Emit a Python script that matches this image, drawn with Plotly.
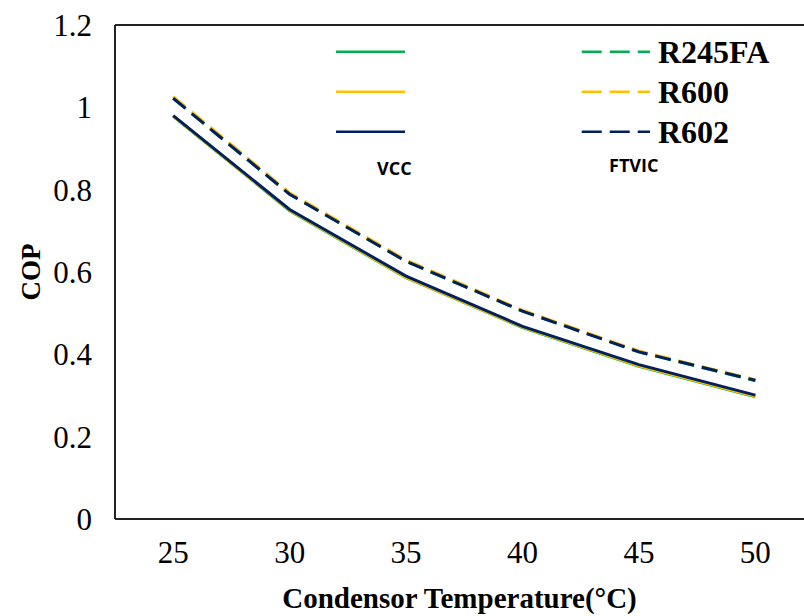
import plotly.graph_objects as go

temps = ["25", "30", "35", "40", "45", "50"]
refrigerants = ["R245FA", "R600", "R602"]
colors = ["#00b050", "#ffc000", "#002060"]

vcc_r245fa = [0.978, 0.749, 0.586, 0.465, 0.371, 0.297]
vcc_r600 = [0.979, 0.750, 0.587, 0.466, 0.372, 0.298]
vcc_r602 = [0.980, 0.752, 0.590, 0.468, 0.375, 0.301]

ftvic_r245fa = [1.022, 0.789, 0.626, 0.505, 0.406, 0.336]
ftvic_r600 = [1.026, 0.792, 0.629, 0.507, 0.408, 0.338]
ftvic_r602 = [1.022, 0.789, 0.626, 0.505, 0.406, 0.337]

y_ticks = [0, 0.2, 0.4, 0.6, 0.8, 1.0, 1.2]
y_tick_text = ["0", "0.2", "0.4", "0.6", "0.8", "1", "1.2"]

vcc = [vcc_r245fa, vcc_r600, vcc_r602]
ftvic = [ftvic_r245fa, ftvic_r600, ftvic_r602]

fig = go.Figure()
for name, col, ys in zip(refrigerants, colors, vcc):
    fig.add_trace(go.Scatter(x=temps, y=ys, mode="lines", name="VCC " + name,
                             line=dict(color=col, width=3), showlegend=False))
for name, col, ys in zip(refrigerants, colors, ftvic):
    fig.add_trace(go.Scatter(x=temps, y=ys, mode="lines", name="FTVIC " + name,
                             line=dict(color=col, width=3, dash="16px,8px"), showlegend=False))

serif = "Times New Roman, Liberation Serif, Times, DejaVu Serif, serif"
frame = dict(color="#222", width=2)
shapes = [
    dict(type="line", xref="paper", yref="paper", x0=0, x1=0, y0=0, y1=1, line=frame),
    dict(type="line", xref="paper", yref="paper", x0=0, x1=1.05, y0=0, y1=0, line=frame),
    dict(type="line", xref="paper", yref="paper", x0=0, x1=1.05, y0=1, y1=1, line=frame),
]
annotations = []
row_y = [0.946, 0.865, 0.784]
for name, col, ry in zip(refrigerants, colors, row_y):
    shapes.append(dict(type="line", xref="paper", yref="paper", x0=0.3208, x1=0.4209,
                       y0=ry, y1=ry, line=dict(color=col, width=2.5)))
    shapes.append(dict(type="line", xref="paper", yref="paper", x0=0.6774, x1=0.7765,
                       y0=ry, y1=ry, line=dict(color=col, width=2.5, dash="20px,8px")))
    annotations.append(dict(text="<b>" + name + "</b>", xref="paper", yref="paper",
                            x=0.785, y=ry, xanchor="left", yanchor="middle", showarrow=False,
                            font=dict(family=serif, size=32, color="black")))
annotations.append(dict(text="<b>VCC</b>", xref="paper", yref="paper", x=0.4057, y=0.7105,
                        xanchor="center", yanchor="middle", showarrow=False,
                        font=dict(family="Open Sans", size=18, color="black")))
annotations.append(dict(text="<b>FTVIC</b>", xref="paper", yref="paper", x=0.752, y=0.7166,
                        xanchor="center", yanchor="middle", showarrow=False,
                        font=dict(family="Open Sans", size=18, color="black")))

fig.update_layout(
    width=804, height=616,
    margin=dict(l=115, r=0, t=25, b=97),
    paper_bgcolor="white", plot_bgcolor="white",
    shapes=shapes, annotations=annotations,
    font=dict(family=serif, color="black"),
    xaxis=dict(type="category", range=[-0.5, 5.418], showline=False,
               showgrid=False, zeroline=False,
               ticks="", ticklabelstandoff=12,
               tickfont=dict(family=serif, size=31, color="black"),
               title=dict(text="<b>Condensor Temperature(°C)</b>", standoff=18,
                          font=dict(family=serif, size=29, color="black"))),
    yaxis=dict(range=[0, 1.2], tickvals=y_ticks, ticktext=y_tick_text,
               showline=False, showgrid=False,
               zeroline=False, ticks="", ticklabelstandoff=22,
               tickfont=dict(family=serif, size=31, color="black"),
               title=dict(text="<b>COP</b>", standoff=4,
                          font=dict(family=serif, size=27, color="black"))),
)

fig.write_html("out.html")
